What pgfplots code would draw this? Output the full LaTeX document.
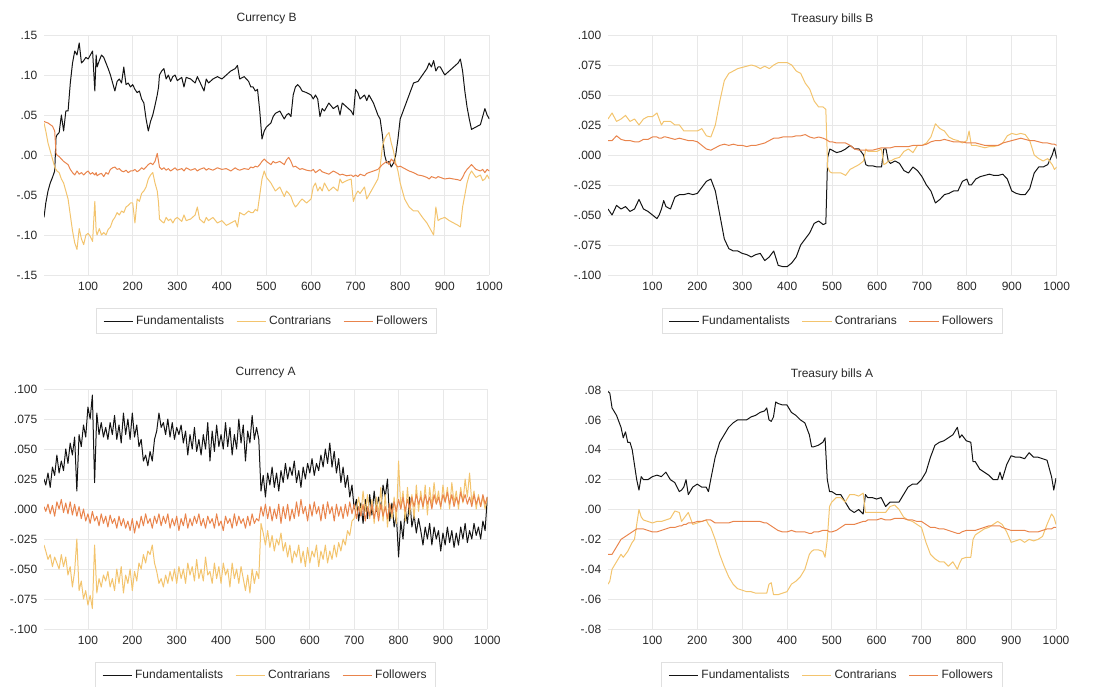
\documentclass[border=0pt]{standalone}
\usepackage{fontspec}
\setmainfont{Liberation Sans}
\usepackage{pgfplots}
\usepackage{pgfplotstable}
\pgfplotsset{compat=1.18}
\definecolor{cfund}{RGB}{20,20,20}
\definecolor{ccon}{RGB}{243,196,110}
\definecolor{cfol}{RGB}{233,132,76}
\definecolor{ctxt}{RGB}{40,40,40}

\pgfplotstableread{
x f c w
1 -.078 .040 .042
5 -.060 .030 .041
10 -.045 .015 .040
15 -.035 .005 .038
20 -.028 -.005 .036
25 -.020 -.015 .030
28 .022 -.018 .002
30 .025 -.020 .000
35 .028 -.022 -.002
40 .050 -.030 -.005
45 .030 -.035 -.008
50 .055 -.045 -.010
55 .055 -.055 -.012
60 .090 -.075 -.018
65 .115 -.095 -.022
70 .130 -.110 -.025
75 .125 -.118 -.020
80 .140 -.092 -.024
85 .115 -.105 -.022
90 .118 -.112 -.025
95 .122 -.100 -.022
100 .120 -.098 -.020
105 .125 -.102 -.024
110 .130 -.108 -.022
115 .080 -.058 -.025
118 .125 -.095 -.022
120 .110 -.100 -.026
125 .118 -.092 -.024
130 .125 -.100 -.023
135 .122 -.097 -.027
140 .115 -.100 -.022
145 .108 -.093 -.024
150 .100 -.090 -.018
155 .090 -.082 -.016
160 .080 -.078 -.015
165 .092 -.072 -.018
170 .095 -.075 -.017
175 .090 -.070 -.020
180 .110 -.072 -.021
185 .088 -.065 -.019
190 .090 -.063 -.022
195 .085 -.060 -.020
200 .088 -.060 -.020
205 .082 -.085 -.018
210 .078 -.055 -.021
215 .080 -.058 -.019
220 .070 -.048 -.016
225 .065 -.045 -.018
230 .045 -.040 -.015
235 .030 -.030 -.012
240 .042 -.025 -.010
245 .050 -.022 -.012
250 .062 -.035 -.008
255 .075 -.045 .002
258 .085 -.060 -.008
260 .100 -.080 -.015
265 .105 -.083 -.018
270 .108 -.085 -.016
275 .095 -.078 -.019
280 .100 -.082 -.017
285 .092 -.080 -.020
290 .098 -.085 -.018
295 .100 -.080 -.016
300 .093 -.078 -.019
310 .097 -.083 -.017
315 .085 -.075 -.020
320 .097 -.082 -.016
330 .095 -.080 -.019
340 .090 -.075 -.017
345 .098 -.065 -.020
350 .092 -.080 -.018
360 .080 -.085 -.016
365 .095 -.078 -.019
370 .090 -.082 -.017
380 .095 -.078 -.019
390 .098 -.085 -.016
400 .095 -.082 -.018
410 .100 -.088 -.017
420 .105 -.085 -.020
430 .108 -.082 -.016
435 .112 -.090 -.018
440 .095 -.072 -.019
450 .098 -.075 -.017
460 .092 -.070 -.018
465 .085 -.072 -.015
470 .085 -.072 -.016
475 .080 -.068 -.014
480 .082 -.070 -.015
485 .055 -.050 -.012
490 .020 -.030 -.008
495 .030 -.020 -.005
500 .035 -.028 -.008
510 .040 -.035 -.012
515 .048 -.040 -.008
520 .052 -.045 -.010
530 .055 -.040 -.008
540 .045 -.052 -.012
545 .050 -.045 -.006
550 .052 -.048 -.003
555 .048 -.052 -.008
560 .075 -.060 -.015
565 .085 -.065 -.014
570 .088 -.062 -.016
575 .085 -.058 -.018
580 .080 -.055 -.017
590 .078 -.060 -.019
600 .075 -.055 -.020
605 .070 -.040 -.018
610 .075 -.035 -.022
615 .070 -.045 -.020
620 .048 -.040 -.018
625 .058 -.045 -.021
630 .055 -.035 -.022
640 .065 -.045 -.024
650 .058 -.040 -.020
660 .062 -.045 -.023
665 .050 -.030 -.025
670 .065 -.035 -.024
680 .060 -.032 -.026
690 .055 -.030 -.025
695 .050 -.058 -.027
700 .082 -.050 -.025
705 .078 -.045 -.027
710 .070 -.048 -.024
720 .075 -.040 -.026
725 .068 -.055 -.023
730 .075 -.050 -.022
740 .065 -.040 -.020
750 .050 -.030 -.018
755 .045 -.015 -.015
760 .025 .010 -.012
765 .000 .020 -.010
770 -.010 .025 -.008
775 -.008 .028 -.012
780 -.015 .015 -.005
785 -.010 .005 -.008
790 .000 -.010 -.012
795 .020 -.020 -.015
800 .045 -.035 -.014
810 .060 -.055 -.017
820 .075 -.065 -.020
830 .090 -.070 -.022
840 .092 -.070 -.025
850 .100 -.078 -.026
860 .108 -.085 -.028
865 .115 -.090 -.030
870 .110 -.095 -.027
875 .118 -.100 -.028
880 .105 -.065 -.029
885 .110 -.082 -.027
890 .110 -.080 -.028
900 .100 -.078 -.030
910 .105 -.082 -.029
920 .110 -.085 -.030
930 .115 -.088 -.031
935 .120 -.090 -.032
940 .105 -.065 -.028
945 .080 -.050 -.022
950 .060 -.035 -.018
955 .045 -.025 -.015
960 .032 -.020 -.012
970 .035 -.028 -.018
980 .038 -.025 -.020
985 .048 -.032 -.018
990 .058 -.030 -.022
995 .050 -.025 -.018
1000 .045 -.030 -.020
}\curB

\pgfplotstableread{
x f c w
1 -.045 .030 .012
10 -.050 .035 .012
20 -.042 .028 .016
30 -.045 .030 .013
40 -.043 .033 .012
50 -.047 .028 .012
60 -.045 .030 .011
70 -.037 .025 .011
80 -.045 .030 .013
90 -.047 .032 .013
100 -.050 .032 .015
110 -.053 .035 .015
115 -.050 .030 .014
120 -.045 .025 .014
125 -.038 .028 .015
130 -.043 .028 .015
140 -.045 .028 .014
150 -.035 .025 .013
160 -.033 .025 .014
170 -.033 .020 .013
180 -.032 .020 .012
190 -.033 .020 .012
200 -.032 .020 .011
210 -.027 .022 .008
220 -.022 .016 .005
230 -.020 .015 .004
240 -.030 .025 .006
250 -.050 .045 .008
260 -.070 .062 .009
270 -.078 .068 .008
280 -.080 .070 .009
290 -.080 .072 .008
300 -.082 .073 .008
310 -.083 .074 .007
320 -.085 .075 .008
330 -.083 .074 .008
340 -.082 .072 .009
350 -.088 .074 .010
360 -.085 .072 .012
370 -.080 .075 .014
380 -.092 .077 .014
390 -.093 .077 .015
400 -.093 .077 .015
410 -.090 .075 .015
420 -.085 .070 .016
430 -.075 .068 .016
440 -.070 .060 .017
450 -.065 .055 .015
460 -.057 .045 .014
470 -.055 .040 .015
480 -.058 .040 .014
486 -.057 .038 .013
490 -.002 -.010 .012
495 .005 -.014 .011
500 .004 -.015 .011
510 .002 -.015 .010
520 .003 -.015 .010
530 .005 -.017 .010
540 .008 -.012 .008
550 .005 -.010 .005
560 .005 -.008 .004
570 .000 -.005 .004
575 -.008 .005 .004
580 -.009 .003 .004
590 -.009 .003 .004
600 -.010 .003 .005
610 -.010 .005 .006
615 .005 -.008 .006
620 .005 -.007 .006
625 -.005 -.005 .006
630 -.007 -.005 .006
640 -.005 -.003 .007
650 -.007 -.002 .007
660 -.013 .003 .007
670 -.015 .005 .007
680 -.010 .002 .008
690 -.013 .008 .008
700 -.018 .008 .008
710 -.025 .010 .009
720 -.030 .015 .011
730 -.040 .026 .012
740 -.037 .022 .012
750 -.033 .020 .013
760 -.032 .015 .012
770 -.030 .013 .011
780 -.030 .012 .011
790 -.022 .010 .011
800 -.020 .012 .010
805 -.025 .020 .010
810 -.025 .008 .010
820 -.020 .008 .010
830 -.018 .007 .009
840 -.017 .006 .008
850 -.016 .007 .008
860 -.017 .007 .008
870 -.017 .008 .008
880 -.016 .010 .010
890 -.020 .016 .011
900 -.030 .018 .012
910 -.032 .017 .013
920 -.033 .018 .014
930 -.033 .017 .013
940 -.028 .012 .012
950 -.015 .000 .012
960 -.010 -.003 .011
970 -.010 -.005 .010
980 -.008 -.003 .010
990 .000 -.008 .009
995 .006 -.012 .009
1000 -.003 -.010 .008
}\tbB

\pgfplotstableread{
x f c w
1 .025 -.030 .002
5 .020 -.035 -.002
10 .030 -.042 .004
15 .018 -.038 -.004
20 .035 -.048 .003
25 .028 -.040 -.006
30 .045 -.045 .006
35 .030 -.050 .000
40 .040 -.038 .008
45 .032 -.048 -.003
50 .050 -.040 .005
55 .038 -.055 -.004
60 .055 -.048 .006
65 .045 -.065 -.005
70 .060 -.052 .004
75 .015 -.025 -.006
80 .062 -.068 .002
85 .052 -.060 -.008
90 .070 -.075 .000
95 .060 -.068 -.010
100 .085 -.080 -.004
105 .075 -.072 -.012
110 .095 -.083 -.002
115 .022 -.030 -.010
120 .080 -.070 -.006
125 .062 -.058 -.014
130 .072 -.065 -.004
135 .060 -.055 -.012
140 .068 -.060 -.006
145 .058 -.052 -.015
150 .072 -.065 -.005
155 .062 -.058 -.012
160 .078 -.068 -.008
165 .058 -.050 -.016
170 .070 -.062 -.006
175 .055 -.048 -.014
180 .080 -.070 -.008
185 .062 -.055 -.016
190 .075 -.062 -.010
195 .058 -.050 -.018
200 .080 -.068 -.008
205 .060 -.052 -.020
210 .070 -.060 -.010
215 .052 -.045 -.016
220 .058 -.050 -.006
225 .040 -.038 -.014
230 .045 -.045 -.004
235 .036 -.035 -.012
240 .048 -.038 -.008
245 .040 -.030 -.016
250 .058 -.045 -.006
255 .065 -.052 -.012
260 .080 -.062 -.004
265 .068 -.058 -.014
270 .072 -.065 -.006
275 .062 -.055 -.012
280 .075 -.062 -.004
285 .060 -.052 -.016
290 .072 -.060 -.008
295 .058 -.050 -.014
300 .068 -.062 -.006
305 .062 -.048 -.018
310 .070 -.058 -.008
315 .055 -.050 -.014
320 .065 -.062 -.004
325 .045 -.045 -.016
330 .062 -.055 -.008
335 .050 -.048 -.014
340 .068 -.060 -.006
345 .048 -.042 -.012
350 .058 -.058 -.004
355 .045 -.050 -.014
360 .062 -.060 -.008
365 .050 -.040 -.016
370 .072 -.055 -.006
375 .040 -.052 -.012
380 .065 -.062 -.008
385 .048 -.045 -.016
390 .070 -.058 -.004
395 .052 -.048 -.014
400 .062 -.062 -.010
405 .050 -.045 -.018
410 .072 -.055 -.006
415 .052 -.050 -.012
420 .068 -.065 -.008
425 .045 -.045 -.016
430 .062 -.058 -.004
435 .050 -.050 -.014
440 .075 -.062 -.006
445 .055 -.048 -.012
450 .070 -.058 -.008
455 .040 -.068 -.016
460 .065 -.055 -.006
465 .055 -.070 -.014
470 .078 -.050 -.004
475 .058 -.062 -.012
480 .068 -.052 -.008
485 .058 -.058 -.010
490 .015 -.012 .002
495 .028 -.020 -.006
500 .010 -.030 .004
505 .030 -.018 -.008
510 .020 -.032 .002
515 .035 -.022 -.010
520 .018 -.035 .000
525 .030 -.025 -.008
530 .015 -.030 .004
535 .032 -.020 -.012
540 .022 -.035 .002
545 .038 -.028 -.008
550 .025 -.040 .004
555 .035 -.030 -.010
560 .028 -.045 .000
565 .040 -.035 -.008
570 .022 -.040 .006
575 .032 -.030 -.006
580 .018 -.045 .008
585 .035 -.035 -.004
590 .025 -.048 .002
595 .038 -.032 -.010
600 .030 -.045 .004
605 .042 -.035 -.006
610 .028 -.040 .006
615 .038 -.030 -.004
620 .032 -.048 .002
625 .045 -.035 -.010
630 .035 -.042 .004
635 .050 -.030 -.008
640 .038 -.045 .006
645 .055 -.035 -.004
650 .035 -.042 .002
655 .048 -.030 -.010
660 .030 -.040 .004
665 .042 -.028 -.006
670 .022 -.035 .002
675 .035 -.025 -.008
680 .018 -.030 .004
685 .028 -.018 -.006
690 .010 -.022 .006
695 .020 -.010 -.004
700 .000 -.008 .004
705 .008 .000 -.008
710 -.010 .010 .002
715 .005 -.005 -.006
720 -.012 .015 .004
725 .008 -.002 -.010
730 -.008 .012 .002
735 .012 -.008 -.006
740 -.005 .008 .004
745 .015 -.012 -.008
750 -.002 .010 .002
755 .010 -.005 -.010
760 .000 .018 .004
765 .020 -.010 -.006
770 .010 .012 .002
775 .025 -.015 -.008
780 -.010 .005 .004
785 .005 -.008 -.004
790 -.015 .010 .006
795 -.005 -.012 -.002
800 -.040 .040 .008
805 -.010 .000 .000
810 -.025 .015 .010
815 .000 -.010 -.002
820 -.012 .018 .008
825 .010 -.005 .000
830 -.015 .012 .010
835 -.005 -.008 .002
840 -.020 .020 .012
845 -.008 -.002 .004
850 -.018 .015 .010
855 -.030 .000 .002
860 -.015 .020 .012
865 -.025 -.005 .004
870 -.012 .018 .010
875 -.030 .002 .000
880 -.015 .022 .012
885 -.025 .005 .004
890 -.018 .015 .010
895 -.035 .000 .002
900 -.020 .020 .012
905 -.030 .005 .006
910 -.015 .018 .014
915 -.028 .000 .004
920 -.018 .022 .012
925 -.032 .005 .002
930 -.020 .015 .010
935 -.030 .000 .004
940 -.015 .018 .014
945 -.025 .005 .006
950 -.012 .025 .012
955 -.028 .010 .004
960 -.018 .030 .010
965 -.025 .005 .002
970 -.012 .015 .012
975 -.022 .000 .004
980 -.015 .012 .010
985 -.025 .002 .002
990 -.010 .010 .012
995 -.018 .000 .004
1000 .010 .010 .010
}\curA

\pgfplotstableread{
x f c w
1 .079 -.050 -.030
5 .078 -.048 -.030
10 .068 -.040 -.030
20 .063 -.035 -.025
30 .055 -.030 -.020
35 .048 -.032 -.019
40 .052 -.030 -.018
45 .045 -.028 -.017
50 .045 -.025 -.016
55 .040 -.022 -.015
60 .030 -.020 -.014
65 .020 -.010 -.013
70 .013 .000 -.013
75 .022 -.005 -.013
80 .020 -.007 -.013
90 .020 -.008 -.014
100 .022 -.009 -.015
110 .023 -.008 -.015
120 .022 -.008 -.014
130 .025 -.007 -.013
140 .020 -.006 -.012
150 .018 -.001 -.012
160 .012 -.002 -.011
165 .013 -.008 -.011
170 .015 -.006 -.010
175 .020 -.004 -.010
180 .010 -.002 -.009
190 .015 -.010 -.009
200 .017 -.009 -.008
210 .015 -.008 -.008
220 .015 -.007 -.007
225 .012 -.010 -.007
230 .020 -.012 -.007
240 .035 -.020 -.009
250 .045 -.030 -.009
260 .050 -.038 -.009
270 .055 -.045 -.009
280 .058 -.050 -.008
290 .060 -.053 -.008
300 .060 -.054 -.008
310 .060 -.055 -.008
320 .062 -.055 -.008
330 .063 -.056 -.008
340 .065 -.056 -.008
350 .066 -.056 -.009
355 .068 -.056 -.009
360 .060 -.050 -.010
365 .059 -.049 -.011
370 .062 -.057 -.012
375 .072 -.057 -.013
380 .071 -.057 -.014
390 .070 -.056 -.015
400 .070 -.055 -.015
410 .065 -.050 -.014
420 .063 -.048 -.015
430 .060 -.045 -.015
440 .058 -.040 -.015
450 .050 -.030 -.016
455 .042 -.028 -.016
460 .042 -.027 -.015
470 .043 -.027 -.015
480 .045 -.028 -.014
485 .048 -.032 -.014
490 .020 -.020 -.014
495 .012 .002 -.015
500 .012 .005 -.015
510 .010 .008 -.014
520 .010 .008 -.012
530 .005 .005 -.010
540 .000 .010 -.010
550 -.002 .010 -.010
560 .000 .009 -.009
570 -.003 .011 -.008
575 .010 -.002 -.008
580 .008 -.002 -.007
590 .008 -.002 -.007
600 .007 -.002 -.007
610 .008 -.002 -.006
620 .002 -.002 -.007
630 .005 .002 -.007
640 .005 .003 -.006
650 .005 .000 -.006
660 .010 -.005 -.006
670 .015 -.007 -.007
680 .017 -.008 -.007
690 .017 -.010 -.008
700 .020 -.012 -.008
710 .025 -.022 -.010
720 .035 -.030 -.012
730 .043 -.033 -.012
740 .045 -.035 -.013
750 .046 -.035 -.013
760 .048 -.038 -.014
770 .050 -.035 -.015
780 .055 -.040 -.016
785 .048 -.036 -.016
790 .050 -.033 -.015
800 .046 -.032 -.014
810 .045 -.032 -.014
815 .032 -.020 -.014
820 .032 -.017 -.014
830 .027 -.015 -.013
840 .025 -.013 -.012
850 .023 -.012 -.011
860 .020 -.010 -.011
870 .020 -.008 -.011
875 .025 -.009 -.011
880 .020 -.010 -.012
890 .030 -.015 -.013
900 .036 -.022 -.014
910 .035 -.021 -.014
920 .035 -.020 -.014
930 .034 -.022 -.014
940 .038 -.020 -.015
950 .035 -.021 -.015
960 .035 -.020 -.015
970 .034 -.018 -.014
980 .033 -.010 -.013
990 .022 -.003 -.013
995 .013 -.005 -.012
1000 .021 -.010 -.012
}\tbA

\pgfplotsset{
  panel/.style={
    scale only axis,
    xmin=1, xmax=1000,
    xtick={100,200,...,1000},
    scaled y ticks=false,
    grid=major,
    major grid style={draw=black!9, line width=0.6pt},
    axis line style={draw=none},
    major tick length=0pt,
    tick label style={font=\fontsize{9}{11}\selectfont, text=ctxt},
    /pgf/number format/assume math mode=true,
    /pgf/number format/1000 sep={},
    xticklabel style={yshift=-1.5pt},
    yticklabel style={xshift=-1.5pt},
    title style={at={(0.5,1)}, anchor=center, yshift=6pt, font=\fontsize{9}{11}\selectfont, text=ctxt},
    legend style={at={(0.5,0)}, anchor=center, yshift=-34.5pt,
      draw=black!12, line width=0.6pt, font=\fontsize{9}{11}\selectfont, text=ctxt,
      inner xsep=5pt, inner ysep=3.5pt,
      /tikz/every even column/.append style={column sep=7pt}},
    legend columns=3,
    legend image code/.code={\draw[#1] (0pt,0pt) -- (22pt,0pt);},
    every axis plot/.append style={line width=0.75pt, line join=round},
  },
}

\begin{document}
\begin{tikzpicture}
\path[use as bounding box] (0,0) rectangle (820.5pt,514.5pt);

\begin{axis}[panel, at={(33pt,308.25pt)}, anchor=south west, width=334pt, height=180pt,
  ymin=-0.15, ymax=0.15, ytick={-0.15,-0.1,-0.05,0,0.05,0.1,0.15},
  yticklabels={-.15,-.10,-.05,.00,.05,.10,.15}, title={Currency B}]
\addplot[cfund] table[x=x,y=f] {\curB}; \addlegendentry{Fundamentalists}
\addplot[ccon] table[x=x,y=c] {\curB}; \addlegendentry{Contrarians}
\addplot[cfol] table[x=x,y=w] {\curB}; \addlegendentry{Followers}
\end{axis}

\begin{axis}[panel, at={(456pt,308.25pt)}, anchor=south west, width=336.5pt, height=180pt,
  ymin=-0.1, ymax=0.1, ytick={-0.1,-0.075,-0.05,-0.025,0,0.025,0.05,0.075,0.1},
  yticklabels={-.100,-.075,-.050,-.025,.000,.025,.050,.075,.100}, title={Treasury bills B}]
\addplot[cfund] table[x=x,y=f] {\tbB}; \addlegendentry{Fundamentalists}
\addplot[ccon] table[x=x,y=c] {\tbB}; \addlegendentry{Contrarians}
\addplot[cfol] table[x=x,y=w] {\tbB}; \addlegendentry{Followers}
\end{axis}

\begin{axis}[panel, at={(33pt,42.75pt)}, anchor=south west, width=332.5pt, height=180pt,
  ymin=-0.1, ymax=0.1, ytick={-0.1,-0.075,-0.05,-0.025,0,0.025,0.05,0.075,0.1},
  yticklabels={-.100,-.075,-.050,-.025,.000,.025,.050,.075,.100}, title={Currency A}]
\addplot[cfund] table[x=x,y=f] {\curA}; \addlegendentry{Fundamentalists}
\addplot[ccon] table[x=x,y=c] {\curA}; \addlegendentry{Contrarians}
\addplot[cfol] table[x=x,y=w] {\curA}; \addlegendentry{Followers}
\end{axis}

\begin{axis}[panel, at={(456pt,42.75pt)}, anchor=south west, width=336pt, height=179.25pt,
  ymin=-0.08, ymax=0.08, ytick={-0.08,-0.06,-0.04,-0.02,0,0.02,0.04,0.06,0.08},
  yticklabels={-.08,-.06,-.04,-.02,.00,.02,.04,.06,.08}, title={Treasury bills A}]
\addplot[cfund] table[x=x,y=f] {\tbA}; \addlegendentry{Fundamentalists}
\addplot[ccon] table[x=x,y=c] {\tbA}; \addlegendentry{Contrarians}
\addplot[cfol] table[x=x,y=w] {\tbA}; \addlegendentry{Followers}
\end{axis}
\end{tikzpicture}
\end{document}
